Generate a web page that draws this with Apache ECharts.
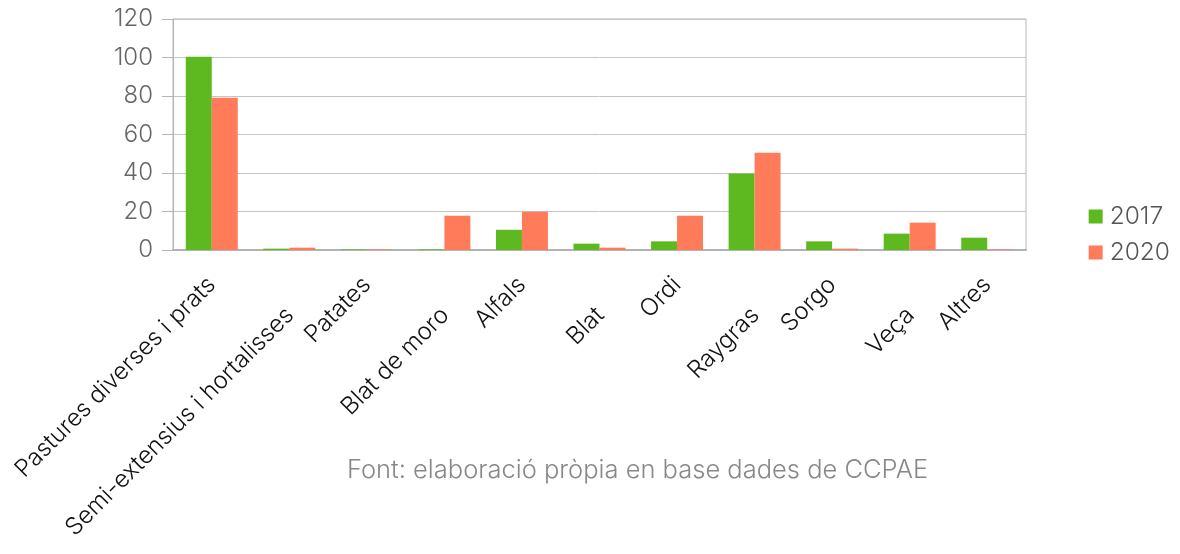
<!DOCTYPE html>
<html>
<head>
<meta charset="utf-8">
<script src="https://cdn.jsdelivr.net/npm/echarts@6/dist/echarts.min.js"></script>
<style>
	html, body { margin: 0; padding: 0; background: #fff; }
	#chart { width: 1180px; height: 554px; }
</style>
</head>
<body>
<div id="chart"></div>
<script>
	// superfície per conreu
	var categories = ['Pastures diverses i prats', 'Semi-extensius i hortalisses', 'Patates', 'Blat de moro',
		'Alfals', 'Blat', 'Ordi', 'Raygras', 'Sorgo', 'Veça', 'Altres'];
	var values2017 = [100.4, 0.7, 0.3, 0.3, 10.5, 3.3, 4.5, 39.8, 4.5, 8.5, 6.4];
	var values2020 = [79.1, 1.2, 0.3, 17.8, 19.9, 1.2, 17.8, 50.5, 0.7, 14.2, 0.3];
	var yTicks = [0, 20, 40, 60, 80, 100, 120];
	var sourceText = 'Font: elaboració pròpia en base dades de CCPAE';

	var font = 'Inter';
	var chart = echarts.init(document.getElementById('chart'));

	var option = {
		animation: false,
		color: ['#5eb81f', '#ff7b5a'],
		grid: {
			left: 173,
			right: 154,
			top: 19,
			bottom: 304,
			show: true,
			borderColor: '#b8b8b8',
			borderWidth: 1
		},
		legend: {
			orient: 'vertical',
			right: 5,
			top: 199,
			itemWidth: 14,
			itemHeight: 14,
			itemGap: 11,
			icon: 'rect',
			data: ['2017', '2020'],
			textStyle: { fontFamily: font, fontWeight: 300, fontSize: 24.5, color: '#555', padding: [0, 0, 0, 2] }
		},
		xAxis: {
			type: 'category',
			data: categories,
			axisLine: { lineStyle: { color: '#b3b3b3', width: 2 } },
			axisTick: { length: 11, lineStyle: { color: '#b3b3b3' } },
			axisLabel: {
				interval: 0,
				rotate: 45,
				margin: 31,
				fontFamily: font,
				fontWeight: 300,
				fontSize: 24,
				color: '#111',
				formatter: function (v, i) {
					return i % 2 === 1 ? '{low|' + v + '}' : v;
				},
				rich: {
					low: { fontFamily: font, fontWeight: 300, fontSize: 24, color: '#111', padding: [44, 21, 0, 0] }
				}
			}
		},
		yAxis: {
			type: 'value',
			min: 0,
			max: 120,
			interval: 20,
			axisLine: { show: true, lineStyle: { color: '#b3b3b3' } },
			axisTick: { show: true, length: 11, lineStyle: { color: '#b3b3b3' } },
			splitLine: { lineStyle: { color: '#c4c4c4' } },
			axisLabel: {
				margin: 20,
				fontFamily: font,
				fontWeight: 300,
				fontSize: 24,
				color: '#666',
				formatter: function (v) { return yTicks.indexOf(v) >= 0 ? String(v) : ''; }
			}
		},
		graphic: [{
			type: 'text',
			left: 347,
			top: 457,
			style: { text: sourceText, fontFamily: font, fontWeight: 300, fontSize: 25.5, fill: '#888' }
		}],
		series: [
			{ name: '2017', type: 'bar', barGap: '0%', barCategoryGap: '33%', data: values2017 },
			{ name: '2020', type: 'bar', barGap: '0%', barCategoryGap: '33%', data: values2020 }
		]
	};
	chart.setOption(option);
</script>
</body>
</html>
